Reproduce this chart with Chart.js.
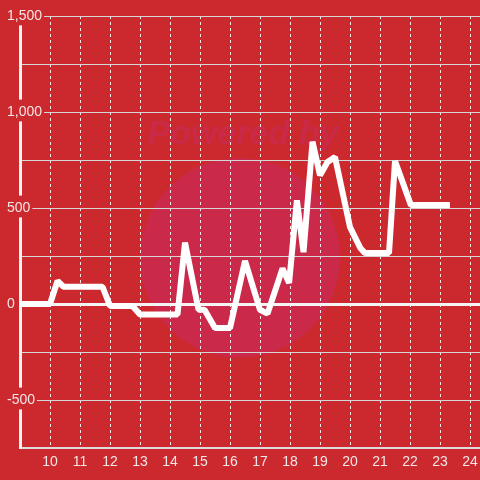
<!DOCTYPE html>
<html>
<head>
<meta charset="utf-8">
<script src="https://cdn.jsdelivr.net/npm/chart.js@4"></script>
<style>
  html, body { margin: 0; padding: 0; background: #cc292e; }
  #wrap { width: 480px; height: 480px; }
</style>
</head>
<body>
<div id="wrap"><canvas id="lineChart" width="480" height="480"></canvas></div>
<script>
// values (x = hour-ish position, y = value)
const xValues = [9, 10, 10.25, 10.45, 11.75, 12, 12.75, 13, 14.25, 14.5, 14.95, 15.15, 15.5, 16,
                 16.5, 17, 17.25, 17.75, 17.97, 18.23, 18.45, 18.75, 19, 19.25, 19.5, 20, 20.35,
                 20.5, 21.3, 21.5, 22.03, 23.33];
const yValues = [0, 0, 120, 90, 90, -10, -10, -55, -55, 320, -30, -30, -125, -125,
                 225, -30, -50, 185, 110, 540, 270, 845, 670, 740, 765, 400, 290,
                 265, 265, 745, 515, 515];
const yLabelTicks = [1500, 1000, 500, 0, -500];

const bg = '#cc292e';

// background + faint watermark behind the grid
const backdropPlugin = {
  id: 'backdrop',
  beforeDraw(chart) {
    const c = chart.ctx;
    c.save();
    c.fillStyle = bg;
    c.fillRect(0, 0, chart.width, chart.height);
    c.fillStyle = '#cb2949';
    c.beginPath();
    c.arc(chart.width / 2, chart.height * 0.537, 100, 0, Math.PI * 2);
    c.fill();
    c.fillStyle = '#c92a48';
    c.font = 'italic bold 34px "Liberation Sans", Arial, sans-serif';
    c.textAlign = 'center';
    c.textBaseline = 'alphabetic';
    c.fillText('Powered by', chart.width / 2 + 3, 144);
    c.restore();
  }
};

new Chart(document.getElementById('lineChart'), {
  type: 'line',
  data: {
    datasets: [{
      data: xValues.map((x, i) => ({x: x, y: yValues[i]})),
      borderColor: '#ffffff',
      borderWidth: 6,
      borderJoinStyle: 'bevel',
      pointRadius: 0,
      tension: 0,
      fill: false
    }]
  },
  options: {
    responsive: false,
    animation: false,
    layout: { padding: { left: 20, top: 16, right: 0, bottom: 0 } },
    plugins: {
      legend: { display: false },
      tooltip: { enabled: false }
    },
    scales: {
      x: {
        type: 'linear',
        min: 9,
        max: 24.333,
        afterFit: s => { s.height = 32; s.paddingLeft = 0; s.paddingRight = 0; },
        grid: {
          color: '#ececec',
          lineWidth: 1,
          drawTicks: false
        },
        border: { color: '#dcdcdc', width: 2, dash: [3, 3] },
        ticks: {
          stepSize: 1,
          includeBounds: false,
          padding: 6,
          color: '#f2e6e6',
          font: { family: '"Liberation Sans", Arial, sans-serif', size: 14 },
          maxRotation: 0,
          autoSkip: false,
          callback: v => (v === 9 ? '' : v)
        }
      },
      y: {
        min: -750,
        max: 1500,
        afterFit: s => { s.width = 0; },
        grid: {
          color: ctx => (ctx.tick && ctx.tick.value === 0 ? '#f4f4f4' : '#d6d6d6'),
          lineWidth: ctx => (ctx.tick && ctx.tick.value === 0 ? 3 : 1),
          drawTicks: false
        },
        border: { color: '#f4f4f4', width: 3 },
        ticks: {
          stepSize: 250,
          mirror: true,
          padding: -13,
          color: '#f2e6e6',
          font: { family: '"Liberation Sans", Arial, sans-serif', size: 14 },
          showLabelBackdrop: true,
          backdropColor: bg,
          backdropPadding: { top: 4, bottom: 1, left: 2, right: 2 },
          callback: v => (yLabelTicks.includes(v) ? v.toLocaleString('en-US') : '')
        }
      }
    }
  },
  plugins: [backdropPlugin]
});
</script>
</body>
</html>
